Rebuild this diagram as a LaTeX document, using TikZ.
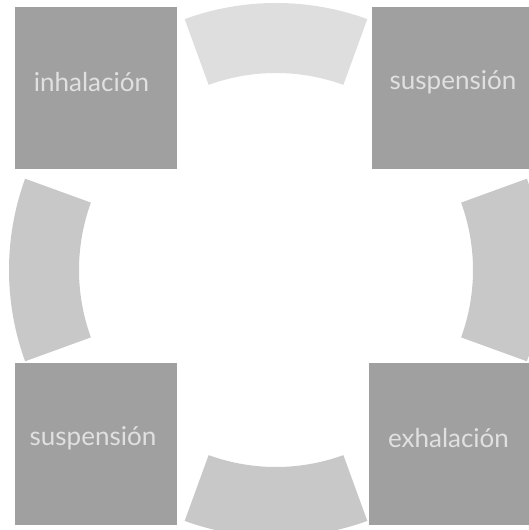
\documentclass[tikz,border=0pt]{standalone}
\usepackage{fontspec}
\setmainfont{Lato}
\usetikzlibrary{calc}
\definecolor{sq}{RGB}{160,160,160}
\definecolor{arcA}{RGB}{200,200,200}
\definecolor{arcT}{RGB}{222,222,222}
\definecolor{lbl}{RGB}{224,224,224}
\tikzset{
  sqbox/.style={fill=sq,draw=none,minimum width=162pt,minimum height=162pt,inner sep=0pt,anchor=north west},
  lbltext/.style={text=lbl,font=\fontsize{26}{30}\selectfont,inner sep=0pt},
}
\begin{document}
\begin{tikzpicture}[x=1pt,y=1pt]
\useasboundingbox (0,0) rectangle (529,530);
\clip (0,0) rectangle (529,530);
\coordinate (C) at (276,260);
\def\ri{197}\def\ro{267}
% ring segments
\fill[arcT] ($(C)+(70:\ri)$) arc[start angle=70,end angle=110,radius=\ri] -- ($(C)+(110:\ro)$) arc[start angle=110,end angle=70,radius=\ro] -- cycle;
\fill[arcA] ($(C)+(160:\ri)$) arc[start angle=160,end angle=200,radius=\ri] -- ($(C)+(200:\ro)$) arc[start angle=200,end angle=160,radius=\ro] -- cycle;
\fill[arcA] ($(C)+(250:\ri)$) arc[start angle=250,end angle=290,radius=\ri] -- ($(C)+(290:\ro)$) arc[start angle=290,end angle=250,radius=\ro] -- cycle;
\fill[arcA] ($(C)+(-20:\ri)$) arc[start angle=-20,end angle=20,radius=\ri] -- ($(C)+(20:\ro)$) arc[start angle=20,end angle=-20,radius=\ro] -- cycle;
% squares
\node[sqbox] (tl) at (15,523) {};
\node[sqbox] (tr) at (372,523) {};
\node[sqbox] (bl) at (15,167) {};
\node[sqbox] (br) at (369,167) {};
% labels
\node[lbltext] (ttl) at (91.5,448) {inhalación};
\node[lbltext] (ttr) at (453,448) {suspensión};
\node[lbltext] (tbl) at (93,92) {suspensión};
\node[lbltext] (tbr) at (448.5,92) {exhalación};
\end{tikzpicture}
\end{document}
